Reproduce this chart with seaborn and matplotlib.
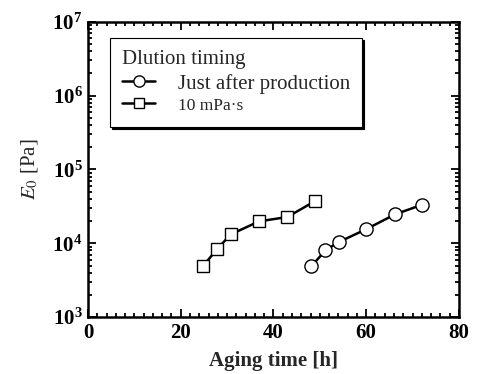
import numpy as np
import pandas as pd
import matplotlib
matplotlib.use("Agg")
import matplotlib.pyplot as plt
import matplotlib.ticker as mticker
import seaborn as sns

# Data
just_x = [48.2, 51.2, 54.1, 60.0, 66.2, 72.1]
just_y = [4.9e3, 8.0e3, 1.04e4, 1.55e4, 2.46e4, 3.33e4]
visc_x = [24.8, 27.8, 30.8, 36.9, 43.0, 48.9]
visc_y = [4.9e3, 8.3e3, 1.32e4, 1.98e4, 2.27e4, 3.7e4]
series_names = ["Just after production", "10 mPa\u00b7s"]

df = pd.concat([
    pd.DataFrame({"t": just_x, "E": just_y, "s": series_names[0]}),
    pd.DataFrame({"t": visc_x, "E": visc_y, "s": series_names[1]}),
])

sns.set_style("ticks")
plt.rcParams["font.family"] = ["Liberation Serif", "DejaVu Serif"]
plt.rcParams["mathtext.fontset"] = "stix"
plt.rcParams["xtick.direction"] = "in"
plt.rcParams["ytick.direction"] = "in"

fig = plt.figure(figsize=(4.79, 3.74), dpi=100)
ax = fig.add_axes([0.1837, 0.152, 0.958 - 0.1837, 0.942 - 0.152])

ax.set_yscale("log")
for name, mk, ms in [(series_names[0], "o", 9.5), (series_names[1], "s", 8.5)]:
    d = df[df["s"] == name]
    sns.lineplot(data=d, x="t", y="E", ax=ax, color="black", lw=1.8,
                 marker=mk, markersize=ms, markerfacecolor="white",
                 markeredgecolor="black", markeredgewidth=1.0, label=name,
                 legend=False)

ax.set_xlim(0, 80)
ax.set_ylim(1e3, 1e7)
ax.xaxis.set_major_locator(mticker.MultipleLocator(20))
ax.xaxis.set_minor_locator(mticker.MultipleLocator(2))
ax.yaxis.set_major_locator(mticker.LogLocator(base=10, numticks=10))
ax.yaxis.set_minor_locator(mticker.LogLocator(base=10, subs=np.arange(2, 10), numticks=20))
ax.yaxis.set_minor_formatter(mticker.NullFormatter())

ax.tick_params(which="both", top=True, right=True, direction="in", width=1.3, colors="black")
ax.tick_params(which="major", length=6, labelsize=15, pad=4)
ax.tick_params(which="minor", length=3)
for sp in ax.spines.values():
    sp.set_linewidth(1.8)
    sp.set_color("black")
for lab in ax.get_xticklabels() + ax.get_yticklabels():
    lab.set_fontweight("bold")

ax.set_xlabel("Aging time [h]", fontsize=15, fontweight="bold", labelpad=6)
ax.set_ylabel("$E_0$ [Pa]", fontsize=15, labelpad=9)

handles, labels = ax.get_legend_handles_labels()
leg = ax.legend(handles, labels, title="Dlution timing", loc="upper left",
                bbox_to_anchor=(0.059, 0.945), frameon=True, fancybox=False,
                edgecolor="black", fontsize=15, title_fontsize=15,
                handlelength=1.55, borderpad=0.6, labelspacing=0.1,
                handletextpad=1.1, alignment="left", borderaxespad=0,
                markerscale=0.85,
                shadow={"color": "black", "alpha": 1.0, "ox": 1.5, "oy": -1.5})
leg.get_frame().set_linewidth(0.8)
leg.get_texts()[1].set_fontsize(12.5)
leg._legend_box.sep = 3

fig.savefig("out.png", dpi=100)
